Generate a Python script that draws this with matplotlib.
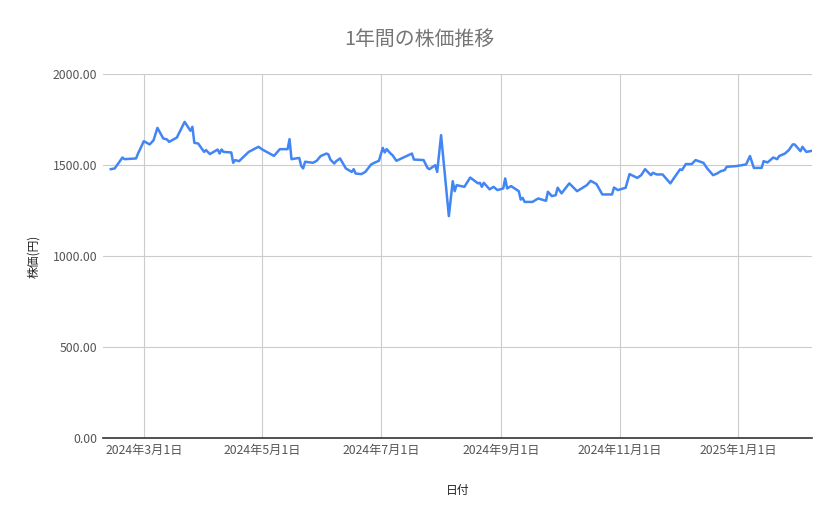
import matplotlib
matplotlib.use("Agg")
import matplotlib.pyplot as plt
import pandas as pd

plt.rcParams['font.family'] = ['Noto Sans CJK JP', 'DejaVu Sans']

# values
dates = [
    "2024-02-13", "2024-02-15", "2024-02-19", "2024-02-20", "2024-02-26", "2024-02-27",
    "2024-02-28", "2024-03-01", "2024-03-04", "2024-03-06", "2024-03-08", "2024-03-11",
    "2024-03-13", "2024-03-14", "2024-03-15", "2024-03-18", "2024-03-22", "2024-03-25",
    "2024-03-26", "2024-03-27", "2024-03-29", "2024-04-01", "2024-04-02", "2024-04-04",
    "2024-04-08", "2024-04-09", "2024-04-10", "2024-04-11", "2024-04-15", "2024-04-16",
    "2024-04-17", "2024-04-19", "2024-04-24", "2024-04-29", "2024-05-01", "2024-05-07",
    "2024-05-10", "2024-05-14", "2024-05-15", "2024-05-16", "2024-05-20", "2024-05-21",
    "2024-05-22", "2024-05-23", "2024-05-27", "2024-05-29", "2024-05-31", "2024-06-03",
    "2024-06-04", "2024-06-05", "2024-06-07", "2024-06-08", "2024-06-10", "2024-06-13",
    "2024-06-16", "2024-06-17", "2024-06-18", "2024-06-21", "2024-06-23", "2024-06-26",
    "2024-06-28", "2024-06-30", "2024-07-02", "2024-07-03", "2024-07-04", "2024-07-06",
    "2024-07-07", "2024-07-09", "2024-07-17", "2024-07-18", "2024-07-23", "2024-07-25",
    "2024-07-26", "2024-07-29", "2024-07-30", "2024-08-01", "2024-08-05", "2024-08-07",
    "2024-08-08", "2024-08-09", "2024-08-13", "2024-08-16", "2024-08-20", "2024-08-21",
    "2024-08-22", "2024-08-23", "2024-08-26", "2024-08-28", "2024-08-30", "2024-09-02",
    "2024-09-03", "2024-09-04", "2024-09-06", "2024-09-10", "2024-09-11", "2024-09-12",
    "2024-09-13", "2024-09-17", "2024-09-20", "2024-09-24", "2024-09-25", "2024-09-27",
    "2024-09-29", "2024-09-30", "2024-10-02", "2024-10-06", "2024-10-10", "2024-10-15",
    "2024-10-17", "2024-10-20", "2024-10-23", "2024-10-28", "2024-10-29", "2024-10-31",
    "2024-11-04", "2024-11-06", "2024-11-10", "2024-11-12", "2024-11-14", "2024-11-17",
    "2024-11-18", "2024-11-20", "2024-11-23", "2024-11-27", "2024-12-02", "2024-12-03",
    "2024-12-05", "2024-12-08", "2024-12-10", "2024-12-14", "2024-12-16", "2024-12-19",
    "2024-12-21", "2024-12-23", "2024-12-25", "2024-12-26", "2024-12-31", "2025-01-05",
    "2025-01-07", "2025-01-09", "2025-01-13", "2025-01-14", "2025-01-16", "2025-01-19",
    "2025-01-21", "2025-01-22", "2025-01-25", "2025-01-27", "2025-01-29", "2025-01-30",
    "2025-02-02", "2025-02-03", "2025-02-05", "2025-02-08",
]
prices = [
    1478, 1482, 1542, 1533, 1537, 1564,
    1586, 1632, 1614, 1637, 1705, 1647,
    1641, 1628, 1634, 1652, 1738, 1689,
    1711, 1623, 1619, 1573, 1583, 1561,
    1586, 1564, 1586, 1573, 1570, 1513,
    1528, 1522, 1573, 1601, 1586, 1551,
    1588, 1588, 1643, 1533, 1540, 1496,
    1482, 1519, 1513, 1524, 1550, 1564,
    1559, 1531, 1509, 1522, 1537, 1482,
    1463, 1478, 1454, 1451, 1463, 1504,
    1515, 1524, 1595, 1570, 1588, 1564,
    1555, 1524, 1564, 1531, 1528, 1485,
    1478, 1500, 1463, 1665, 1220, 1412,
    1357, 1390, 1381, 1432, 1400, 1403,
    1381, 1403, 1367, 1381, 1363, 1372,
    1427, 1372, 1385, 1357, 1311, 1320,
    1298, 1298, 1317, 1304, 1354, 1330,
    1335, 1376, 1345, 1400, 1357, 1390,
    1414, 1396, 1339, 1339, 1377, 1363,
    1376, 1451, 1430, 1445, 1478, 1445,
    1458, 1449, 1449, 1400, 1477, 1473,
    1506, 1506, 1528, 1513, 1482, 1445,
    1454, 1467, 1473, 1491, 1495, 1504,
    1550, 1485, 1485, 1522, 1515, 1542,
    1533, 1550, 1564, 1583, 1614, 1614,
    1577, 1601, 1573, 1579,
]

x_ticks = ["2024-03-01", "2024-05-01", "2024-07-01", "2024-09-01", "2024-11-01", "2025-01-01"]
x_tick_labels = ["2024年3月1日", "2024年5月1日", "2024年7月1日", "2024年9月1日",
                 "2024年11月1日", "2025年1月1日"]
y_ticks = [0, 500, 1000, 1500, 2000]

d = pd.to_datetime(dates)

fig = plt.figure(figsize=(8.39, 5.19), dpi=100)
ax = fig.add_axes([0.1228, 0.156, 0.968 - 0.1228, 0.857 - 0.156])

ax.plot(d, prices, color="#4285F4", linewidth=1.8)

ax.set_xlim(pd.Timestamp("2024-02-09"), pd.Timestamp("2025-02-08"))
ax.set_ylim(0, 2000)
ax.set_yticks(y_ticks)
ax.set_yticklabels([f"{v:.2f}" for v in y_ticks])
ax.set_xticks(pd.to_datetime(x_ticks))
ax.set_xticklabels(x_tick_labels)

ax.grid(True, color="#cccccc", linewidth=0.8)
ax.set_axisbelow(True)
for s in ["top", "right", "left"]:
    ax.spines[s].set_visible(False)
ax.spines["bottom"].set_color("#333333")
ax.spines["bottom"].set_linewidth(1.2)
ax.tick_params(length=0, labelsize=8.8, colors="#555555", pad=4)

fig.text(0.5, 1 - 39 / 519, "1年間の株価推移", fontsize=14.3, color="#757575",
         ha="center", va="center")
ax.set_xlabel("日付", fontsize=8.5, color="#222222", labelpad=20)
ax.set_ylabel("株価(円)", fontsize=8.5, color="#222222", labelpad=9)

fig.savefig("out.png", dpi=100)
